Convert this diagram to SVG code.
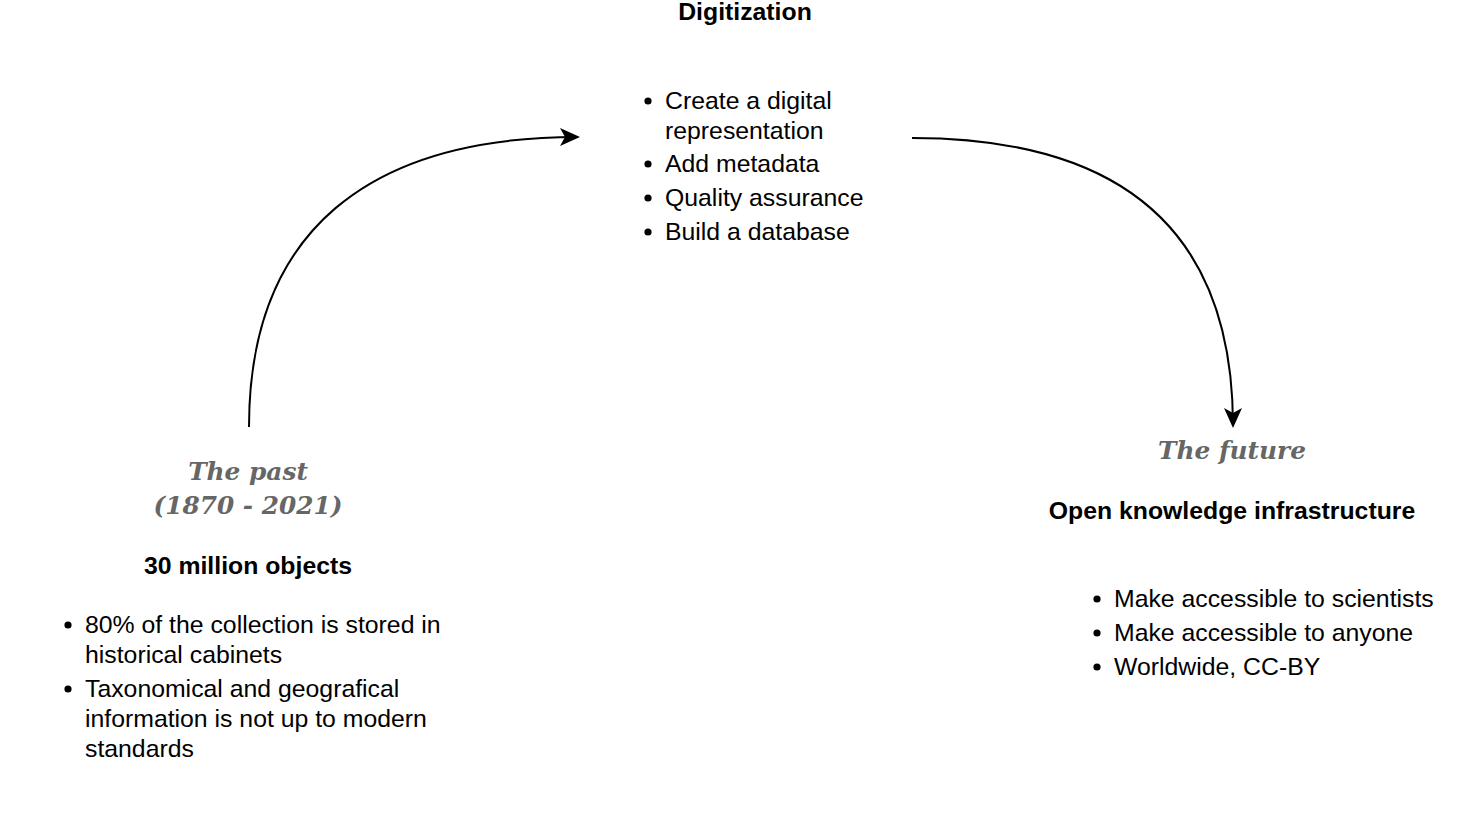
<svg xmlns="http://www.w3.org/2000/svg" width="1470" height="814" viewBox="0 0 1470 814">
<style>
.t{font-family:"Liberation Sans",Arial,sans-serif;font-size:24.8px;fill:#000}
.b{font-family:"Liberation Sans",Arial,sans-serif;font-size:24.8px;font-weight:bold;fill:#000}
.s{font-family:"DejaVu Serif",serif;font-size:24.8px;font-weight:bold;font-style:italic;fill:#666}
.c{fill:none;stroke:#000;stroke-width:2}
.d{fill:#000}
</style>
<defs>
<marker id="arr" viewBox="0 0 20 20" refX="18" refY="10" markerWidth="20" markerHeight="20" markerUnits="userSpaceOnUse" orient="auto">
<path d="M0,1 L20,10 L0,19 L5,10 Z" fill="#000"/>
</marker>
</defs>
<rect width="1470" height="814" fill="#fff"/>
<g id="connectors">
<path class="c" d="M249,427 C249,230 370,137 578,137" marker-end="url(#arr)"/>
<path class="c" d="M912,138 C1110,138 1233,220 1233,426" marker-end="url(#arr)"/>
</g>
<g id="digitization">
<text class="b" x="745" y="20" text-anchor="middle">Digitization</text>
<circle class="d" cx="648" cy="101" r="3.6"/><text class="t" x="665" y="109">Create a digital</text>
<text class="t" x="665" y="139">representation</text>
<circle class="d" cx="648" cy="164" r="3.6"/><text class="t" x="665" y="172">Add metadata</text>
<circle class="d" cx="648" cy="198" r="3.6"/><text class="t" x="665" y="206">Quality assurance</text>
<circle class="d" cx="648" cy="232" r="3.6"/><text class="t" x="665" y="240">Build a database</text>
</g>
<g id="past">
<text class="s" x="248" y="480" text-anchor="middle">The past</text>
<text class="s" x="248" y="514" text-anchor="middle">(1870 - 2021)</text>
<text class="b" x="248" y="574" text-anchor="middle">30 million objects</text>
<circle class="d" cx="68" cy="625" r="3.6"/><text class="t" x="85" y="633">80% of the collection is stored in</text>
<text class="t" x="85" y="663">historical cabinets</text>
<circle class="d" cx="68" cy="689" r="3.6"/><text class="t" x="85" y="697">Taxonomical and geografical</text>
<text class="t" x="85" y="727">information is not up to modern</text>
<text class="t" x="85" y="757">standards</text>
</g>
<g id="future">
<text class="s" x="1232" y="459" text-anchor="middle">The future</text>
<text class="b" x="1232" y="519" text-anchor="middle">Open knowledge infrastructure</text>
<circle class="d" cx="1097" cy="599" r="3.6"/><text class="t" x="1114" y="607">Make accessible to scientists</text>
<circle class="d" cx="1097" cy="633" r="3.6"/><text class="t" x="1114" y="641">Make accessible to anyone</text>
<circle class="d" cx="1097" cy="667" r="3.6"/><text class="t" x="1114" y="675">Worldwide, CC-BY</text>
</g>
</svg>
